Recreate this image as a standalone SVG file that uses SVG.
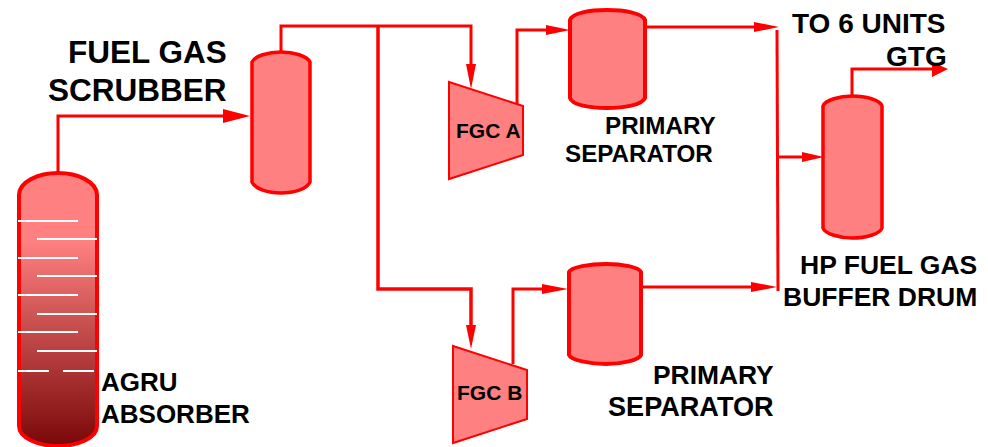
<svg xmlns="http://www.w3.org/2000/svg" width="988" height="447" viewBox="0 0 988 447">
<style>
.v{fill:#ff8080;stroke:#ff0000;stroke-width:3.5}
.w{stroke-width:4}
.c{fill:#ff8080;stroke:#ff0000;stroke-width:2}
.l{fill:none;stroke:#ff0000;stroke-width:3}
.a{fill:#ff0000;stroke:none}
.t{stroke:#fff;stroke-width:2}
text{font-family:"Liberation Sans",Arial,sans-serif;font-weight:700;fill:#000}
.b{font-size:31.5px}.m{font-size:26.5px}.g{font-size:28px}.s{font-size:24.2px}.f{font-size:21px}.p{font-size:26.4px}.q{font-size:27.1px}.r{font-size:26px}
</style>
<defs>
<linearGradient id="g" x1="0" y1="0" x2="0" y2="1">
<stop offset="0" stop-color="#ff8080"/><stop offset="0.25" stop-color="#ff8080"/><stop offset="1" stop-color="#7a0808"/>
</linearGradient>
</defs>
<rect width="988" height="447" fill="#fff"/>
<g id="connectors">
<path class="l" d="M58 173V116H230"/><polygon class="a" points="223,109 250,116 223,123"/>
<path class="l" d="M281 52V26H471V66"/><polygon class="a" points="466,64 476,64 471,89"/>
<path class="l" d="M378 26V289H471V325" style="stroke-width:3.5"/><polygon class="a" points="466,325 476,325 471,349"/>
<path class="l" d="M517 106V30H560"/><polygon class="a" points="546,25 570,30 546,35"/>
<path class="l" d="M513 364V289H552"/><polygon class="a" points="542,284 568,289 542,294"/>
<path class="l" d="M645 27H765"/><polygon class="a" points="754,22 779,27 754,32"/>
<path class="l" d="M641 287H760"/><polygon class="a" points="751,282 777,287 751,292"/>
<path class="l" d="M777 30L778 291"/>
<path class="l" d="M778 157H810"/><polygon class="a" points="802,152 824,157 802,162"/>
<path class="l" d="M852 96V69H935"/><polygon class="a" points="932,62 948,69 932,77"/>
</g>
<g id="agru-absorber">
<path d="M19 195C19 182 38 173 58 173C78 173 97 182 97 195V426C97 438 78 446 58 446C38 446 19 438 19 426Z" fill="url(#g)" stroke="#ff0000" stroke-width="4"/>
<path class="t" d="M18 221H78M37 239H97M18 258H78M37 276H97M18 295H78M37 314H97M18 332H78M37 351H97M18 371H49M63 371H94"/>
<text class="r" x="101" y="391">AGRU</text><text class="r" x="101" y="423">ABSORBER</text>
</g>
<g id="fuel-gas-scrubber">
<path class="v" d="M252 62C255 56 268 52 281 52C294 52 307 56 310 62V182C307 189 294 193 281 193C268 193 255 189 252 182Z"/>
<text class="b" x="68" y="63">FUEL GAS</text><text class="b" x="48" y="101">SCRUBBER</text>
</g>
<g id="fgc-a">
<polygon class="c" points="449,82 523,106 523,155 449,179"/>
<text class="f" x="456" y="138">FGC A</text>
</g>
<g id="fgc-b">
<polygon class="c" points="453,346 527,370 527,419 453,443"/>
<text class="f" x="457" y="400">FGC B</text>
</g>
<g id="primary-separator-a">
<path class="v w" d="M570 20C572 13 590 10 607 10C624 10 642 13 645 20V98C642 105 624 108 607 108C590 108 572 105 570 98Z"/>
<text class="s" x="605" y="134">PRIMARY</text><text class="s" x="565" y="162">SEPARATOR</text>
</g>
<g id="primary-separator-b">
<path class="v w" d="M569 272C571 267 590 264 606 264C622 264 639 267 641 272V355C639 360 622 364 606 364C590 364 571 360 569 355Z"/>
<text class="p" x="653" y="384">PRIMARY</text><text class="q" x="608" y="416">SEPARATOR</text>
</g>
<g id="hp-fuel-gas-buffer-drum">
<path class="v" d="M823 106C825 100 840 96 852 96C866 96 880 100 882 106V228C880 234 866 238 852 238C840 238 825 234 823 228Z"/>
<text class="m" x="800" y="274">HP FUEL GAS</text><text class="m" x="783" y="306">BUFFER DRUM</text>
</g>
<g id="to-6-units-gtg">
<text class="g" x="792" y="33">TO 6 UNITS</text><text class="g" x="886" y="66">GTG</text>
</g>
</svg>
